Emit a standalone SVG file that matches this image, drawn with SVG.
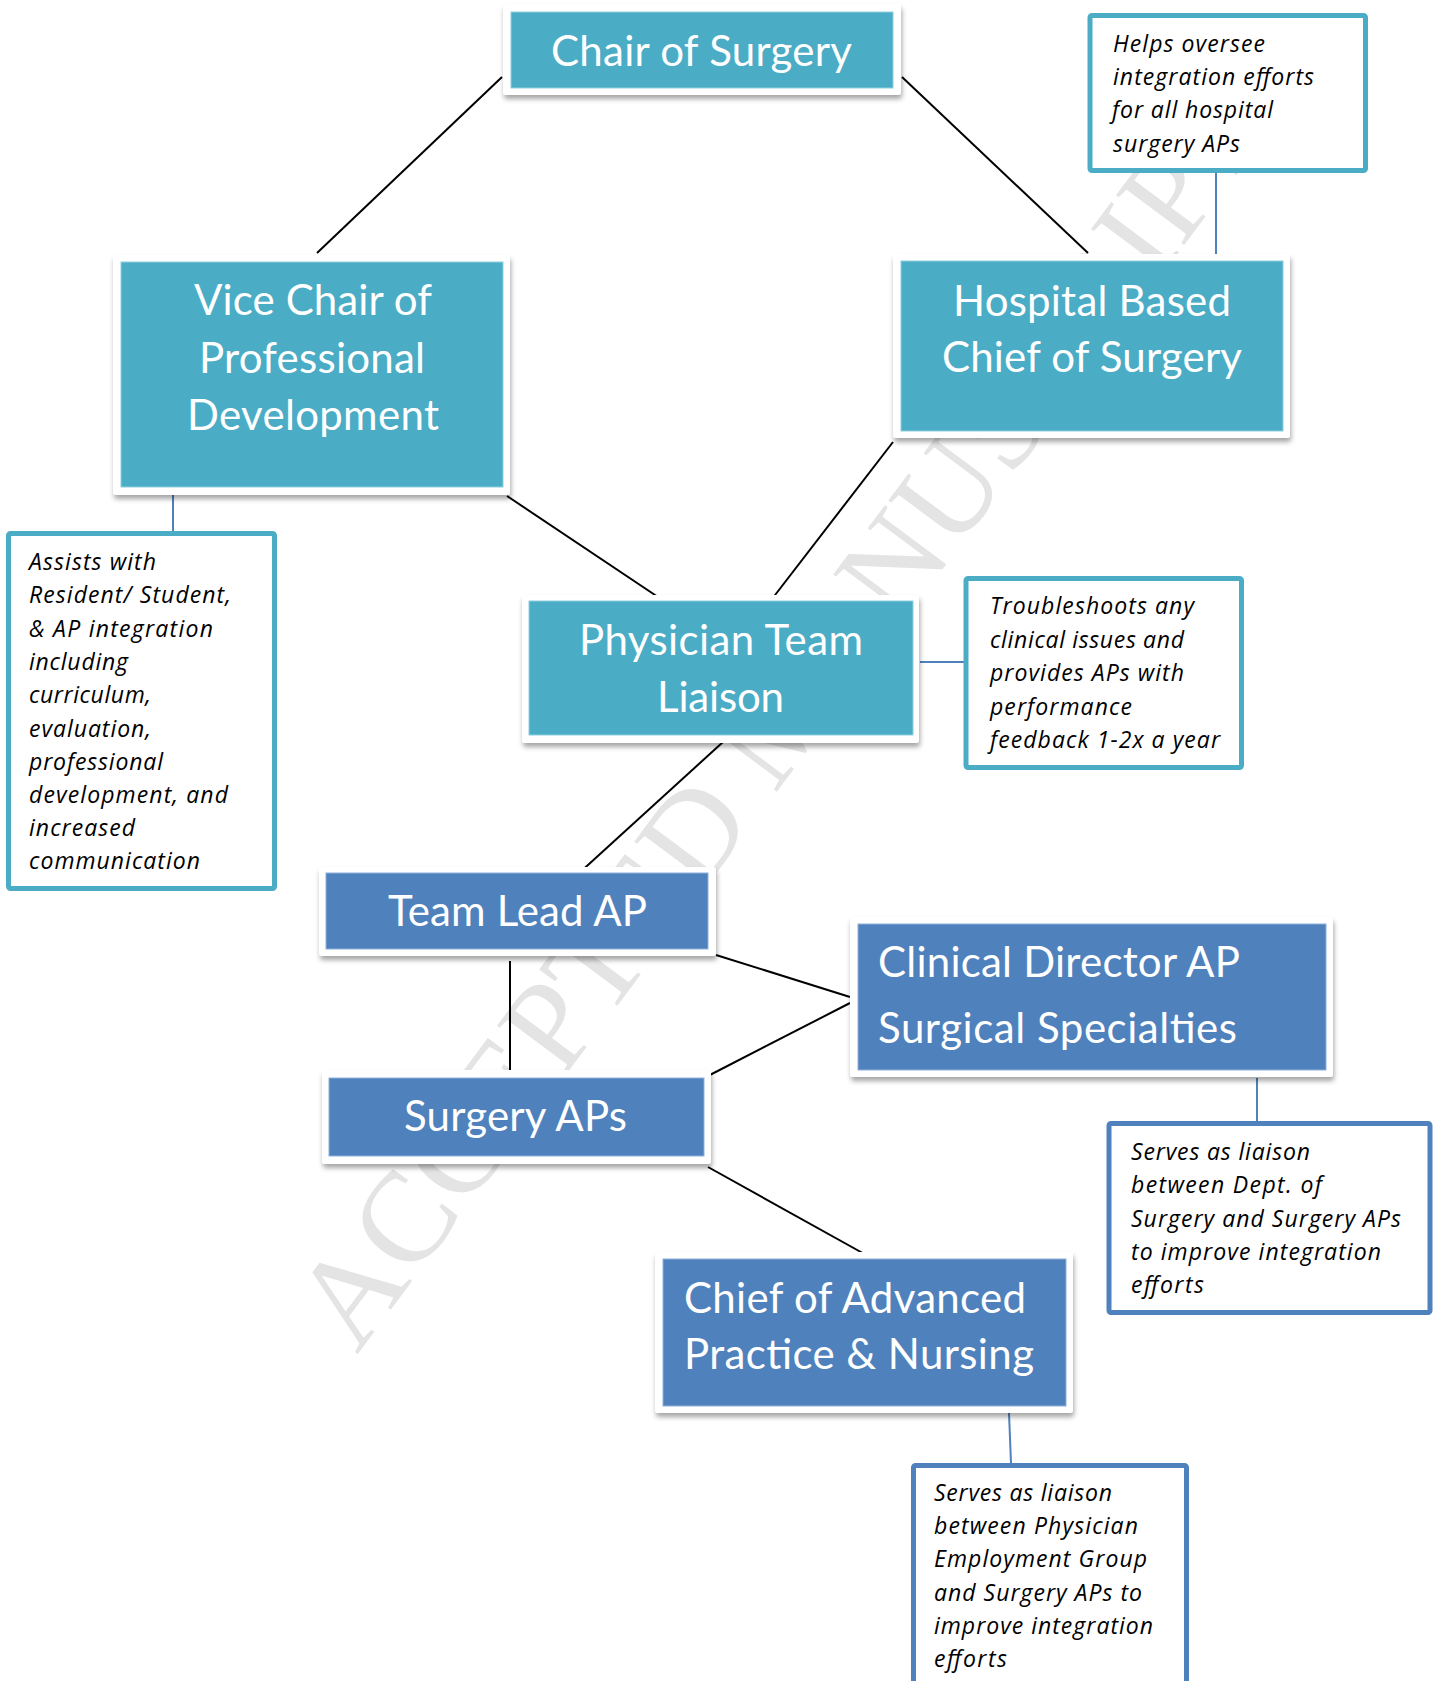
<svg xmlns="http://www.w3.org/2000/svg" width="1439" height="1681" viewBox="0 0 1439 1681">
<defs>
<filter id="sh" x="-10%" y="-10%" width="120%" height="130%">
<feDropShadow dx="1" dy="4" stdDeviation="2.5" flood-color="#000" flood-opacity="0.35"/>
</filter>
<style>
.frame{fill:#ffffff;filter:url(#sh);}
.teal{fill:#4BACC6;stroke:#8fd0e0;stroke-width:1;}
.blue{fill:#4F81BD;stroke:#8fb0db;stroke-width:1;}
.nt{font-family:Lato,"Open Sans",sans-serif;font-size:42px;fill:#ffffff;}
.ct{font-family:"Open Sans",Lato,sans-serif;font-style:italic;font-size:23px;fill:#000000;}
.cbt{fill:#ffffff;stroke:#4BACC6;stroke-width:5;}
.cbb{fill:#ffffff;stroke:#4F81BD;stroke-width:5;}
.ln{stroke:#000000;stroke-width:2;fill:none;}
.bl{stroke:#4F81BD;stroke-width:2;fill:none;}
.wm{font-family:"Liberation Serif",serif;font-size:129px;fill:#e4e4e4;}
</style>
</defs>
<rect width="1439" height="1681" fill="#ffffff"/>
<text class="wm" transform="translate(357,1355) rotate(-53.3)">ACCEPTED MANUSCRIPT</text>

<g id="connectors">
<line class="ln" x1="502" y1="77" x2="317" y2="253"/>
<line class="ln" x1="902" y1="77" x2="1088" y2="253"/>
<line class="ln" x1="507" y1="496" x2="658" y2="597"/>
<line class="ln" x1="893" y1="442" x2="772" y2="599"/>
<line class="ln" x1="723" y1="742" x2="577" y2="875"/>
<line class="ln" x1="510" y1="961" x2="510" y2="1073" stroke-width="2.5"/>
<line class="ln" x1="716" y1="955" x2="850" y2="997"/>
<line class="ln" x1="706" y1="1077" x2="850" y2="1003"/>
<line class="ln" x1="708" y1="1167" x2="877" y2="1261"/>
<line class="bl" x1="1216" y1="173" x2="1216" y2="262"/>
<line class="bl" x1="173" y1="495" x2="173" y2="531"/>
<line class="bl" x1="920" y1="662" x2="966" y2="662"/>
<line class="bl" x1="1257" y1="1078" x2="1257" y2="1121"/>
<line class="bl" x1="1009" y1="1413" x2="1011" y2="1463"/>
</g>

<g id="chair">
<rect class="frame" x="503" y="4" width="398" height="91" rx="3"/>
<rect class="teal" x="511" y="12" width="382" height="76"/>
<text class="nt" x="551" y="66" textLength="301">Chair of Surgery</text>
</g>

<g id="vicechair">
<rect class="frame" x="113" y="255" width="397" height="240" rx="3"/>
<rect class="teal" x="121" y="262" width="382" height="225"/>
<text class="nt" x="194" y="315" textLength="238">Vice Chair of</text>
<text class="nt" x="199" y="373" textLength="226">Professional</text>
<text class="nt" x="187" y="430" textLength="252">Development</text>
</g>

<g id="hospital">
<rect class="frame" x="893" y="254" width="397" height="184" rx="3"/>
<rect class="teal" x="901" y="261" width="382" height="170"/>
<text class="nt" x="953" y="316" textLength="278">Hospital Based</text>
<text class="nt" x="942" y="372" textLength="300">Chief of Surgery</text>
</g>

<g id="physician">
<rect class="frame" x="522" y="595" width="397" height="148" rx="3"/>
<rect class="teal" x="529" y="601" width="384" height="134"/>
<text class="nt" x="579" y="655" textLength="284">Physician Team</text>
<text class="nt" x="657" y="712" textLength="127">Liaison</text>
</g>

<g id="teamlead">
<rect class="frame" x="319" y="867" width="397" height="89" rx="3"/>
<rect class="blue" x="326" y="873" width="382" height="76"/>
<text class="nt" x="388" y="926" textLength="259">Team Lead AP</text>
</g>

<g id="surgeryaps">
<rect class="frame" x="322" y="1070" width="389" height="94" rx="3"/>
<rect class="blue" x="329" y="1078" width="375" height="78"/>
<text class="nt" x="404" y="1131" textLength="223">Surgery APs</text>
</g>

<g id="clinicaldirector">
<rect class="frame" x="850" y="917" width="483" height="160" rx="3"/>
<rect class="blue" x="858" y="924" width="468" height="146"/>
<text class="nt" x="878" y="977" textLength="362">Clinical Director AP</text>
<text class="nt" x="878" y="1043" textLength="359">Surgical Specialties</text>
</g>

<g id="chiefadvanced">
<rect class="frame" x="655" y="1252" width="418" height="161" rx="3"/>
<rect class="blue" x="663" y="1259" width="403" height="147"/>
<text class="nt" x="684" y="1313" textLength="342">Chief of Advanced</text>
<text class="nt" x="684" y="1369" textLength="350">Practice &amp; Nursing</text>
</g>

<g id="note-helps">
<rect class="cbt" x="1090" y="15.5" width="275.5" height="155" rx="2"/>
<text class="ct" x="1113" y="52" textLength="152">Helps oversee</text>
<text class="ct" x="1113" y="85" textLength="201">integration efforts</text>
<text class="ct" x="1112" y="118" textLength="161">for all hospital</text>
<text class="ct" x="1113" y="152" textLength="127">surgery APs</text>
</g>

<g id="note-assists">
<rect class="cbt" x="8.5" y="533.5" width="266" height="355" rx="2"/>
<text class="ct" x="29" y="570" textLength="127">Assists with</text>
<text class="ct" x="29" y="603.3" textLength="202">Resident/ Student,</text>
<text class="ct" x="29" y="636.6" textLength="184">&amp; AP integration</text>
<text class="ct" x="29" y="669.9" textLength="99">including</text>
<text class="ct" x="29" y="703.2" textLength="122">curriculum,</text>
<text class="ct" x="29" y="736.5" textLength="122">evaluation,</text>
<text class="ct" x="29" y="769.8" textLength="134">professional</text>
<text class="ct" x="29" y="803.1" textLength="199">development, and</text>
<text class="ct" x="29" y="836.4" textLength="106">increased</text>
<text class="ct" x="29" y="868.5" textLength="171">communication</text>
</g>

<g id="note-troubleshoots">
<rect class="cbt" x="966" y="578.5" width="275.5" height="189" rx="2"/>
<text class="ct" x="990" y="614" textLength="204">Troubleshoots any</text>
<text class="ct" x="990" y="647.5" textLength="194">clinical issues and</text>
<text class="ct" x="990" y="681" textLength="194">provides APs with</text>
<text class="ct" x="990" y="714.5" textLength="142">performance</text>
<text class="ct" x="990" y="748" textLength="230">feedback 1-2x a year</text>
</g>

<g id="note-dept">
<rect class="cbb" x="1109" y="1123.5" width="321" height="189" rx="2"/>
<text class="ct" x="1131" y="1160" textLength="179">Serves as liaison</text>
<text class="ct" x="1131" y="1193" textLength="191">between Dept. of</text>
<text class="ct" x="1131" y="1227" textLength="270">Surgery and Surgery APs</text>
<text class="ct" x="1131" y="1260" textLength="250">to improve integration</text>
<text class="ct" x="1131" y="1293" textLength="73">efforts</text>
</g>

<g id="note-employment">
<rect class="cbb" x="913.5" y="1465.5" width="273" height="240" rx="2"/>
<text class="ct" x="934" y="1501" textLength="178">Serves as liaison</text>
<text class="ct" x="934" y="1534" textLength="204">between Physician</text>
<text class="ct" x="934" y="1567" textLength="213">Employment Group</text>
<text class="ct" x="934" y="1601" textLength="208">and Surgery APs to</text>
<text class="ct" x="934" y="1634" textLength="219">improve integration</text>
<text class="ct" x="934" y="1667" textLength="73">efforts</text>
</g>
</svg>
